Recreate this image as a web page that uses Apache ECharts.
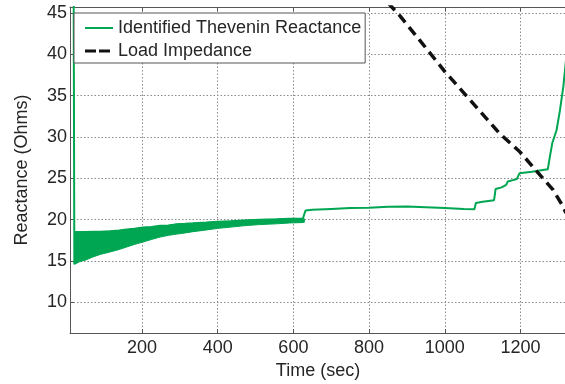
<!DOCTYPE html>
<html><head><meta charset="utf-8">
<script src="https://cdn.jsdelivr.net/npm/echarts@6/dist/echarts.min.js"></script>
<style>html,body{margin:0;padding:0;background:#fff}#c{width:565px;height:384px}</style>
</head><body><div id="c"></div>
<script>
// ---- data ----
const xTicks = [200, 400, 600, 800, 1000, 1200];
const yTicks = [10, 15, 20, 25, 30, 35, 40, 45];

// initial spike of identified reactance
const spikeTime  = [19, 21.5];
const spikeValue = [60, 14.6];

// noisy band (lower / upper envelope) of identified reactance
const bandTime  = [22, 35, 50, 71, 90, 116, 140, 160, 180, 203, 225, 248, 270, 292, 315, 335, 370, 401, 435, 467, 510, 556, 590, 625, 629];
const bandLower = [14.6, 14.9, 15.1, 15.5, 15.8, 16.1, 16.4, 16.7, 17.0, 17.3, 17.6, 17.9, 18.1, 18.25, 18.4, 18.55, 18.75, 18.95, 19.1, 19.25, 19.4, 19.5, 19.6, 19.65, 19.7];
const bandUpper = [18.5, 18.5, 18.5, 18.55, 18.55, 18.6, 18.7, 18.8, 18.9, 19.05, 19.1, 19.25, 19.3, 19.45, 19.5, 19.55, 19.65, 19.75, 19.82, 19.9, 20.0, 20.05, 20.1, 20.1, 20.1];

// identified reactance after the noisy part
const theveninTime  = [632, 650, 700, 750, 800, 850, 900, 950, 1000, 1050, 1078, 1082, 1100, 1130, 1134, 1150, 1162, 1166, 1190, 1197, 1200, 1230, 1272, 1277, 1284, 1295, 1304, 1313, 1320];
const theveninValue = [21.1, 21.2, 21.3, 21.4, 21.45, 21.55, 21.6, 21.5, 21.4, 21.3, 21.25, 22.0, 22.15, 22.35, 23.7, 23.9, 24.2, 24.6, 24.9, 25.6, 25.7, 25.8, 26.1, 27.5, 29.3, 30.8, 33.2, 36.1, 39.3];

// load impedance
const loadTime  = [850, 882, 935, 1000, 1066, 1145, 1198, 1259, 1286, 1312, 1320];
const loadValue = [46.2, 44.6, 41.6, 37.9, 34.5, 30.4, 28.2, 25.0, 23.6, 21.6, 20.8];

// ---- build ----
const GREEN = '#00a651';
const TXT = '#262626';
const FONT = '"Liberation Sans", Arial, sans-serif';
const FS = 18;

const zip = (a, b) => a.map((t, i) => [t, b[i]]);
const mainData = zip(spikeTime, spikeValue)
  .concat(zip(bandTime, bandUpper))
  .concat(zip(theveninTime, theveninValue));

const chart = echarts.init(document.getElementById('c'), null, {renderer: 'canvas'});
const splitLine = {show: true, lineStyle: {color: '#8a8a8a', type: [1.5, 2], width: 1}};
const axisCommon = {
  axisLine: {show: true, lineStyle: {color: '#555'}},
  axisTick: {show: true, inside: true, length: 4, lineStyle: {color: '#555'}}
};
chart.setOption({
  animation: false,
  backgroundColor: '#fff',
  textStyle: {fontFamily: FONT},
  grid: {left: 70, top: 7, width: 496, height: 326, containLabel: false, outerBoundsMode: 'none'},
  legend: {
    orient: 'vertical', left: 74, top: 13,
    padding: [5, 4, 2, 11], itemGap: 3, itemWidth: 28, itemHeight: 14,
    backgroundColor: '#fff', borderColor: '#555', borderWidth: 1,
    textStyle: {fontSize: FS, color: TXT, lineHeight: 20, fontFamily: FONT},
    data: [
      {name: 'Identified Thevenin Reactance', icon: 'path://M0,0H28V2H0Z', itemStyle: {color: GREEN}},
      {name: 'Load Impedance', icon: 'path://M0,0H11V3H0Z M14,0H25V3H14Z M28,0H28.01V3H28Z', itemStyle: {color: '#111'}}
    ]
  },
  xAxis: [Object.assign({
    type: 'value', min: 10, max: 1320, splitNumber: 7,
    name: 'Time (sec)', nameLocation: 'middle', nameGap: 15,
    nameTextStyle: {fontSize: FS, color: TXT, fontFamily: FONT},
    axisLabel: {fontSize: FS, color: TXT, margin: 6, fontFamily: FONT,
      formatter: v => xTicks.includes(v) ? String(v) : ''},
    splitLine: splitLine
  }, axisCommon), Object.assign({
    type: 'value', position: 'top', min: 10, max: 1320, splitNumber: 7,
    axisLabel: {show: false}, splitLine: {show: false}
  }, axisCommon)],
  yAxis: Object.assign({
    type: 'value', min: 6.3, max: 45.7, splitNumber: 8,
    name: 'Reactance (Ohms)', nameLocation: 'middle', nameGap: 39,
    nameTextStyle: {fontSize: FS, color: TXT, fontFamily: FONT},
    axisLabel: {fontSize: FS, color: TXT, margin: 3, fontFamily: FONT,
      formatter: v => yTicks.includes(v) ? String(v) : ''},
    splitLine: splitLine
  }, axisCommon),
  series: [
    {
      name: 'band', type: 'custom', coordinateSystem: 'cartesian2d', silent: true, z: 2,
      data: [[bandTime[0], bandLower[0]]],
      renderItem: function (params, api) {
        const pts = [];
        for (let i = 0; i < bandTime.length; i++) pts.push(api.coord([bandTime[i], bandUpper[i]]));
        for (let i = bandTime.length - 1; i >= 0; i--) pts.push(api.coord([bandTime[i], bandLower[i]]));
        return {type: 'polygon', shape: {points: pts}, style: {fill: GREEN, stroke: GREEN, lineWidth: 1}};
      }
    },
    {
      name: 'Identified Thevenin Reactance', type: 'line', data: mainData,
      symbol: 'none', showSymbol: false, lineStyle: {color: GREEN, width: 2}, itemStyle: {color: GREEN}, z: 3
    },
    {
      name: 'Load Impedance', type: 'line', data: zip(loadTime, loadValue),
      symbol: 'none', showSymbol: false, lineStyle: {color: '#111', width: 3.5, type: [10, 6]}, itemStyle: {color: '#111'}, z: 4
    }
  ]
});
</script></body></html>
